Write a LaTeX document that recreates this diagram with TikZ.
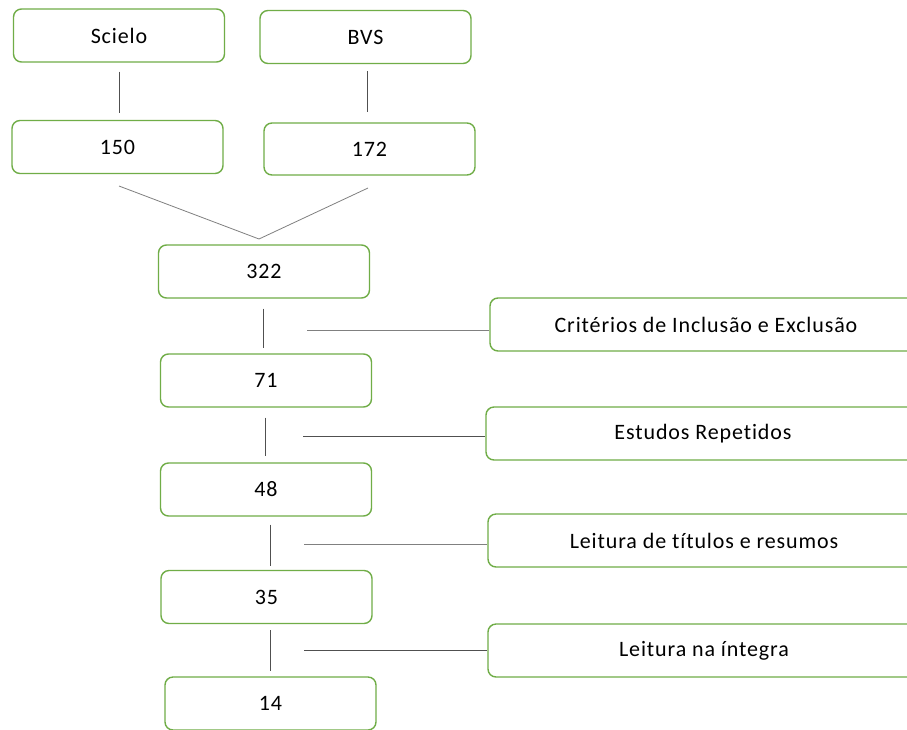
\documentclass[tikz,border=0pt]{standalone}
\usepackage{fontspec}
\setmainfont{Carlito}[LetterSpace=4, Ligatures={NoCommon}]
\definecolor{boxgreen}{HTML}{70AD47}
\definecolor{lineg}{HTML}{505050}
\begin{document}
\begin{tikzpicture}[x=1pt,y=-1pt,
  box/.style={draw=boxgreen, line width=1.4pt, rounded corners=8pt, fill=white,
    minimum width=211pt, minimum height=53pt, inner sep=0pt,
    font=\fontsize{22}{24}\selectfont, text=black},
  wbox/.style={box, minimum width=432pt},
  conn/.style={draw=lineg, line width=0.8pt},
  vconn/.style={draw=gray, line width=0.8pt}]
\clip (0,0) rectangle (907,729);
\fill[white] (0,0) rectangle (907,729);
\node[box] (scielo) at (119,35.5) {Scielo};
\node[box] (bvs) at (365.5,37) {BVS};
\node[box] (n150) at (117.5,147) {150};
\node[box, minimum height=52pt] (n172) at (369.5,149) {172};
\node[box] (n322) at (264,271.5) {322};
\node[wbox] (crit) at (706,324.5) {Critérios de Inclusão e Exclusão};
\node[box] (n71) at (266,380.5) {71};
\node[wbox, minimum width=434pt] (estudos) at (703,433.5) {Estudos Repetidos};
\node[box] (n48) at (266,489.5) {48};
\node[wbox] (leit1) at (704,540.5) {Leitura de títulos e resumos};
\node[box] (n35) at (266.5,597) {35};
\node[wbox] (leit2) at (704,650.5) {Leitura na íntegra};
\node[box] (n14) at (270.5,703.5) {14};
% vertical connectors
\draw[conn, shorten <=9pt, shorten >=7pt] (scielo.south) -- (scielo.south |- n150.north);
\draw[conn, shorten <=7pt, shorten >=10pt] ([xshift=1.5pt]bvs.south) -- ([xshift=1.5pt]bvs.south |- n172.north);
\coordinate (v1) at (119,186);
\coordinate (vm) at (259,239);
\coordinate (v2) at (368,188);
\draw[vconn] (v1) -- (vm) -- (v2);
\draw[conn, shorten <=10pt, shorten >=5pt] ([xshift=-1pt]n322.south) -- ([xshift=-1pt]n322.south |- n71.north);
\draw[conn, shorten <=10pt, shorten >=6pt] ([xshift=-1pt]n71.south) -- ([xshift=-1pt]n71.south |- n48.north);
\draw[conn, shorten <=8pt, shorten >=4pt] ([xshift=4pt]n48.south) -- ([xshift=4pt]n48.south |- n35.north);
\draw[conn, shorten <=6pt, shorten >=5pt] ([xshift=3.5pt]n35.south) -- ([xshift=3.5pt]n35.south |- n14.north);
% horizontal connectors
\coordinate (h1) at (307,330);
\coordinate (h2) at (303,436);
\coordinate (h3) at (304,544);
\coordinate (h4) at (304,650);
\draw[vconn] (h1) -- (h1 -| crit.west);
\draw[conn] (h2) -- (h2 -| estudos.west);
\draw[vconn] (h3) -- (h3 -| leit1.west);
\draw[conn] (h4) -- (h4 -| leit2.west);
\end{tikzpicture}
\end{document}
